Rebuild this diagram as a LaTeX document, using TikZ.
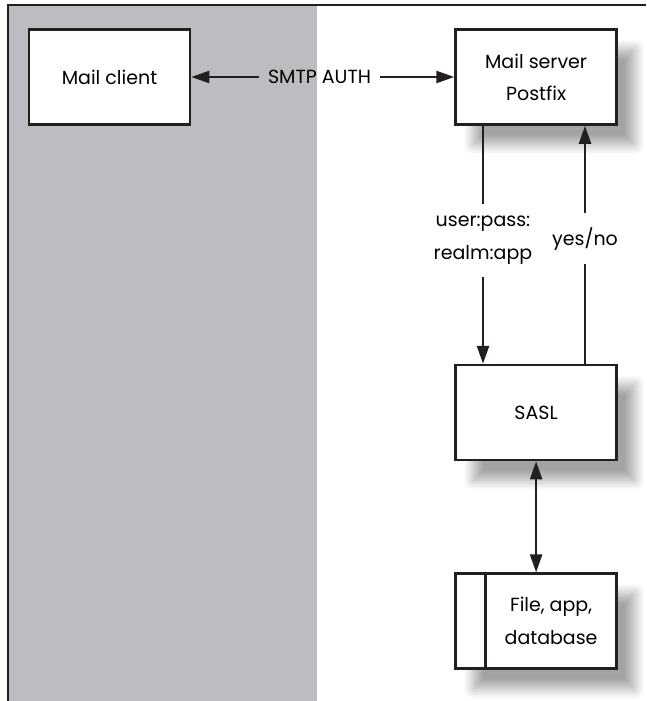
\documentclass[tikz,border=0pt]{standalone}
\usepackage{fontspec}
\setmainfont{Poppins}
\usetikzlibrary{positioning, arrows.meta, shadows.blur}
\definecolor{panelgray}{RGB}{188,189,192}
\definecolor{ink}{RGB}{35,31,32}

\begin{document}
\begin{tikzpicture}[x=1pt, y=-1pt,
  box/.style={draw=ink, line width=2.6pt, fill=white, minimum width=161pt,
              minimum height=95pt, align=center, inner sep=0pt,
              font=\fontsize{19}{32}\selectfont},
  shadowbox/.style={box, blur shadow={shadow xshift=18pt, shadow yshift=-20pt,
              shadow blur radius=10pt, shadow blur steps=12, shadow opacity=36}},
  lbl/.style={align=center, inner sep=0pt, font=\fontsize{19}{33}\selectfont},
  wire/.style={line width=2.4pt, draw=ink},
  arr/.style={wire, -{Triangle[length=18pt, width=12pt]}},
  biarr/.style={wire, {Triangle[length=18pt, width=12pt]}-{Triangle[length=18pt, width=12pt]}}]
  \useasboundingbox (0,0) rectangle (646,701);
  % backdrop
  \fill[panelgray] (8,5) rectangle (317,701);
  \draw[wire, line width=2.6pt] (8,701) -- (8,5) -- (646,5);
  % boxes
  \node[box] (client) at (109.5,77) {Mail client};
  \node[shadowbox, right=263pt of client] (server) {Mail server\\Postfix};
  \node[shadowbox, below=238pt of server] (sasl) {SASL};
  \node[shadowbox, below=111pt of sasl] (store) {};
  \node[lbl] (storetxt) at ([xshift=15pt]store.center) {File, app,\\database};
  \draw[wire] ([xshift=31pt]store.north west) -- ([xshift=31pt]store.south west);
  % labels on the links
  \node[lbl, inner xsep=9pt] (smtp) at (319.5,77) {SMTP AUTH};
  \node[lbl, inner ysep=12pt] (cred) at (483,240.5) {user:pass:\\realm:app};
  \node[lbl, inner ysep=14pt] (yesno) at (585,238.5) {yes/no};
  % links
  \draw[arr] (smtp.west) -- (client.east);
  \draw[arr] (smtp.east) -- (server.west);
  \draw[wire] (cred.north |- server.south) -- (cred.north);
  \draw[arr] (cred.south) -- (cred.south |- sasl.north);
  \draw[wire] (yesno.south |- sasl.north) -- (yesno.south);
  \draw[arr] (yesno.north) -- (yesno.north |- server.south);
  \draw[biarr] (sasl) -- (store);
\end{tikzpicture}
\end{document}
